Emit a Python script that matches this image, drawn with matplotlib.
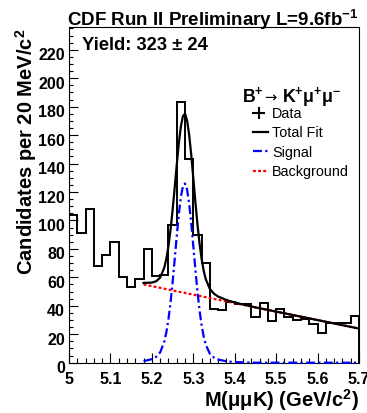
import numpy as np
import matplotlib
matplotlib.use("Agg")
import matplotlib.pyplot as plt
from matplotlib.lines import Line2D
from matplotlib.transforms import ScaledTranslation
from matplotlib.ticker import MultipleLocator, FixedLocator, FixedFormatter

# -----------------------------
# Data
# -----------------------------
# 20 MeV bins from 5.00 to 5.70 GeV
bin_edges = np.round(np.arange(5.00, 5.7001, 0.02), 2)
counts = [104, 91, 108, 68, 76, 85, 60, 53, 59, 80,
          61, 62, 97, 183, 143, 90, 70, 38, 37, 43,
          41, 41, 32, 42, 29, 38, 32, 30, 31, 27,
          21, 28, 28, 28, 33]

# fit curves (values read at these masses)
fit_mass = [5.18, 5.20, 5.21, 5.22, 5.23, 5.235, 5.24, 5.245, 5.25, 5.255,
            5.26, 5.265, 5.27, 5.275, 5.28, 5.285, 5.29, 5.295, 5.30, 5.305,
            5.31, 5.315, 5.32, 5.325, 5.33, 5.34, 5.35, 5.36, 5.38, 5.40,
            5.45, 5.70]
signal_fit = [1.1, 2.5, 4.0, 7.2, 14.8, 21.4, 30.4, 42.1, 56.3, 72.2,
              88.7, 104.1, 116.4, 124.1, 126.0, 121.7, 111.9, 98.2, 82.1, 65.7,
              50.3, 37.1, 26.5, 18.5, 12.8, 6.3, 3.6, 2.2, 1.0, 0.4,
              0.0, 0.0]
total_fit = [56.1, 56.3, 57.2, 59.8, 66.8, 73.1, 81.8, 93.2, 107.1, 122.7,
             138.9, 154.0, 166.0, 173.4, 175.0, 170.4, 160.3, 146.3, 129.9, 113.2,
             97.5, 84.0, 73.1, 64.8, 58.8, 51.8, 48.5, 46.5, 44.1, 42.3,
             38.9, 24.0]
bkg_mass = [5.18, 5.70]
bkg_fit = [55.0, 24.0]

x_ticks = [5.0, 5.1, 5.2, 5.3, 5.4, 5.5, 5.6, 5.7]
x_tick_labels = ["5", "5.1", "5.2", "5.3", "5.4", "5.5", "5.6", "5.7"]

# -----------------------------
# Style
# -----------------------------
plt.rcParams["font.family"] = ["Liberation Sans", "DejaVu Sans"]
plt.rcParams["mathtext.fontset"] = "custom"
plt.rcParams["mathtext.rm"] = "Liberation Sans:bold"
plt.rcParams["mathtext.bf"] = "Liberation Sans:bold"
plt.rcParams["mathtext.it"] = "Liberation Sans:bold"
plt.rcParams["mathtext.default"] = "rm"

W, H = 367, 414
fig = plt.figure(figsize=(W / 100, H / 100), dpi=100)


def px(x, y):
    # pixel position (from top-left) -> figure fraction
    return x / W, 1 - y / H


ax_l, ax_r, ax_t, ax_b = 69, 359, 28, 363.7
ax = fig.add_axes([ax_l / W, 1 - ax_b / H, (ax_r - ax_l) / W, (ax_b - ax_t) / H])

# histogram
ax.stairs(counts, bin_edges, color="black", lw=1.4, zorder=3)

# fit components
ax.plot(bkg_mass, bkg_fit, color="#ff0000", lw=1.6, dashes=(1.3, 1.0), zorder=4)
ax.plot(fit_mass, signal_fit, color="#0000ff", lw=1.6, dashes=(4, 1.5, 1, 1.5),
        zorder=4, clip_on=False)
ax.plot(fit_mass, total_fit, color="black", lw=1.6, zorder=5)

ax.set_xlim(5.0, 5.7)
ax.set_ylim(0, 236)

ax.xaxis.set_major_locator(FixedLocator(x_ticks))
ax.xaxis.set_major_formatter(FixedFormatter(x_tick_labels))
ax.xaxis.set_minor_locator(MultipleLocator(0.02))
ax.yaxis.set_major_locator(MultipleLocator(20))
ax.yaxis.set_minor_locator(MultipleLocator(5))

ax.tick_params(axis="both", which="both", direction="in", color="black", width=0.8)
ax.tick_params(axis="x", which="major", length=7.2, pad=6, labelsize=11.5)
ax.tick_params(axis="x", which="minor", length=3.6)
ax.tick_params(axis="y", which="major", length=6.3, pad=3, labelsize=11.5)
ax.tick_params(axis="y", which="minor", length=3.1)
shift_down = ScaledTranslation(0, -3.5 / 100, fig.dpi_scale_trans)
for lab in ax.get_xticklabels() + ax.get_yticklabels():
    lab.set_fontweight("bold")
for lab in ax.get_yticklabels():
    lab.set_transform(lab.get_transform() + shift_down)
for s in ax.spines.values():
    s.set_linewidth(0.8)

# titles and axis labels
fig.text(*px(213, 26), r"CDF Run II Preliminary L=9.6fb$^{-1}$", ha="center",
         va="baseline", fontsize=13.5, fontweight="bold")
fig.text(*px(82, 50), "Yield: 323 ± 24", ha="left", va="baseline",
         fontsize=13.2, fontweight="bold")
fig.text(*px(359, 407), r"M($\mathregular{\mu\mu}$K) (GeV/c$^{2}$)", ha="right",
         va="baseline", fontsize=14.5, fontweight="bold")
fig.text(*px(26, 28), r"Candidates per 20 MeV/c$^{2}$", ha="center", va="top",
         rotation=90, fontsize=14.5, fontweight="bold")

# legend header, arrow drawn in DejaVu so it sits at mid height
fig.text(*px(242, 102), r"B$^{+}$", ha="left", va="baseline",
         fontsize=12.8, fontweight="bold")
fig.text(*px(264.5, 102), "→", ha="left", va="baseline",
         fontsize=10.5, family="DejaVu Sans")
fig.text(*px(282, 102), r"K$^{+}$μ$^{+}$μ$^{-}$", ha="left", va="baseline",
         fontsize=12.8, fontweight="bold")

entries = ["Data", "Total Fit", "Signal", "Background"]
rows = [118.5, 137.5, 157, 176.5]
for name, yb in zip(entries, rows):
    fig.text(*px(272, yb), name, ha="left", va="baseline", fontsize=10.4)

x0, x1 = px(253, 0)[0], px(268, 0)[0]
ym = [px(0, yb - 5)[1] for yb in rows]
fig.add_artist(Line2D([px(253, 0)[0], px(264, 0)[0]], [ym[0], ym[0]], color="black", lw=1.5))
fig.add_artist(Line2D([px(258.5, 0)[0]] * 2, [px(0, 108.5)[1], px(0, 118.5)[1]], color="black", lw=1.5))
fig.add_artist(Line2D([x0, x1], [ym[1], ym[1]], color="black", lw=1.6))
fig.add_artist(Line2D([x0, x1], [ym[2], ym[2]], color="#0000ff", lw=1.6, dashes=(4, 1.5, 1, 1.5)))
fig.add_artist(Line2D([x0, x1], [ym[3], ym[3]], color="#ff0000", lw=1.6, dashes=(1.3, 1.0)))

fig.savefig("out.png", dpi=100)
